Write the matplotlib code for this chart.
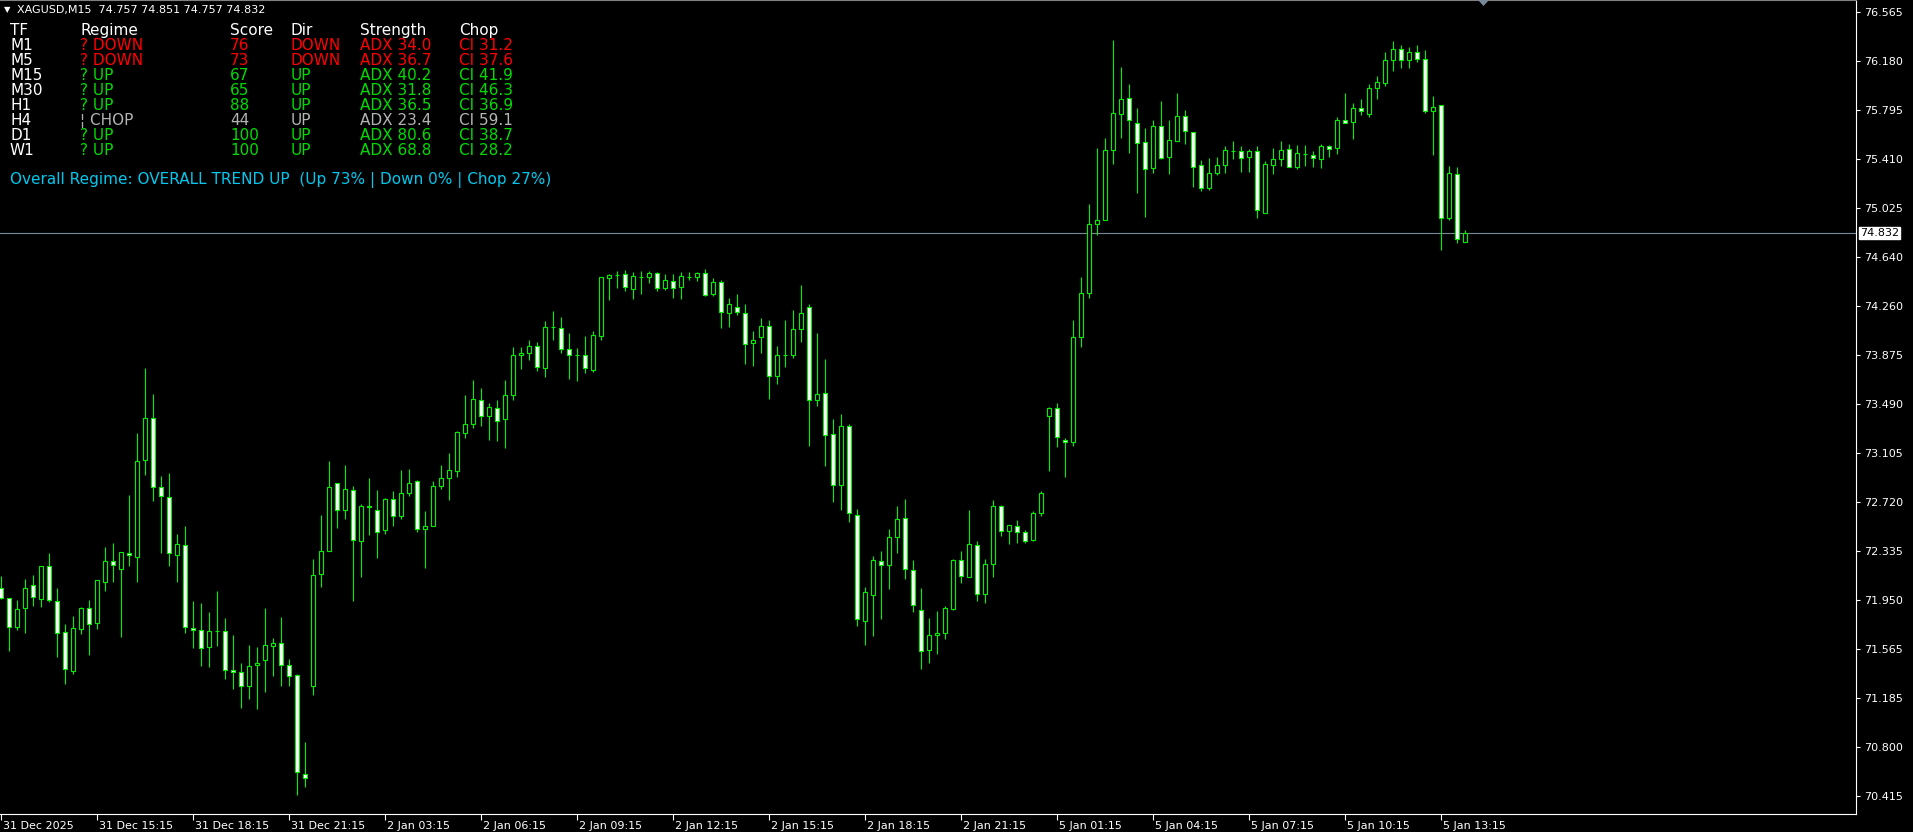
"""
Recreate the XAGUSD M15 MetaTrader chart with the regime table overlay.
"""

import numpy as np
import matplotlib

matplotlib.use("Agg")
import matplotlib.pyplot as plt
from matplotlib.patches import Polygon
from matplotlib.transforms import ScaledTranslation

# ---- candle data (bar index 0 = 31 Dec 12:15, M15 bars) ----
opens = [
    72.043, 71.966, 71.737, 71.886, 72.066, 71.958, 72.214, 71.941, 71.697, 71.396,
    71.721, 71.886, 71.768, 72.090, 72.261, 72.198, 72.323, 72.292, 73.046, 73.383,
    72.834, 72.763, 72.308, 72.386, 71.735, 71.719, 71.586, 71.711, 71.711, 71.405,
    71.389, 71.279, 71.444, 71.483, 71.593, 71.617, 71.444, 71.366, 70.589, 71.279,
    72.159, 72.336, 72.873, 72.661, 72.818, 72.418, 72.692, 72.661, 72.504, 72.747,
    72.614, 72.787, 72.881, 72.512, 72.528, 72.849, 72.912, 72.967, 73.265, 73.336,
    73.524, 73.391, 73.454, 73.375, 73.556, 73.870, 73.886, 73.948, 73.768, 74.090,
    74.082, 73.917, 73.875, 73.870, 73.757, 74.019, 74.474, 74.498, 74.506, 74.388,
    74.485, 74.482, 74.514, 74.401, 74.451, 74.404, 74.485, 74.482, 74.514, 74.353,
    74.443, 74.200, 74.251, 74.204, 73.964, 74.011, 74.098, 73.705, 73.875, 73.875,
    74.074, 74.251, 73.524, 73.572, 73.250, 72.857, 73.313, 72.622, 71.790, 71.994,
    72.261, 72.229, 72.449, 72.598, 72.190, 71.876, 71.562, 71.680, 71.695, 71.884,
    72.268, 72.132, 72.386, 72.002, 72.237, 72.692, 72.496, 72.535, 72.488, 72.425,
    72.637, 73.391, 73.454, 73.210, 73.187, 74.011, 74.357, 74.898, 74.930, 75.479,
    75.762, 75.887, 75.691, 75.542, 75.338, 75.668, 75.424, 75.550, 75.746, 75.620,
    75.361, 75.186, 75.303, 75.361, 75.471, 75.471, 75.424, 75.471, 74.985, 75.361,
    75.408, 75.487, 75.346, 75.452, 75.440, 75.408, 75.511, 75.495, 75.715, 75.699,
    75.809, 75.762, 75.966, 76.005, 76.186, 76.272, 76.186, 76.248, 76.193, 75.785,
    75.832, 74.945, 75.291, 74.757,
]
highs = [
    72.139, 71.966, 71.951, 72.116, 72.147, 72.214, 72.317, 72.045, 71.760, 71.825,
    71.896, 71.951, 72.105, 72.367, 72.398, 72.331, 72.773, 73.258, 73.770, 73.566,
    72.922, 72.946, 72.467, 72.530, 71.941, 71.925, 71.855, 72.020, 71.808, 71.674,
    71.460, 71.596, 71.580, 71.886, 71.656, 71.816, 71.491, 71.374, 70.840, 72.276,
    72.622, 73.040, 72.873, 73.009, 72.849, 72.708, 72.912, 72.818, 72.755, 72.810,
    72.969, 72.977, 72.896, 72.653, 72.881, 73.009, 73.103, 73.281, 73.558, 73.681,
    73.611, 73.493, 73.524, 73.681, 73.933, 73.933, 73.995, 73.972, 74.137, 74.215,
    74.168, 74.050, 73.925, 74.019, 74.058, 74.482, 74.506, 74.529, 74.537, 74.521,
    74.529, 74.529, 74.521, 74.506, 74.506, 74.521, 74.521, 74.521, 74.545, 74.474,
    74.459, 74.317, 74.349, 74.270, 74.058, 74.160, 74.152, 73.948, 74.152, 74.223,
    74.419, 74.275, 74.050, 73.846, 73.375, 73.407, 73.336, 72.669, 72.057, 72.297,
    72.339, 72.512, 72.685, 72.747, 72.268, 72.049, 71.813, 71.868, 71.907, 72.276,
    72.334, 72.655, 72.412, 72.276, 72.732, 72.695, 72.543, 72.577, 72.504, 72.653,
    72.810, 73.462, 73.493, 73.226, 74.145, 74.482, 75.055, 75.495, 75.573, 76.345,
    76.131, 75.997, 75.809, 75.652, 75.715, 75.864, 75.715, 75.927, 75.793, 75.620,
    75.401, 75.416, 75.424, 75.511, 75.550, 75.511, 75.487, 75.511, 75.393, 75.495,
    75.550, 75.526, 75.518, 75.518, 75.471, 75.526, 75.518, 75.738, 75.927, 75.848,
    75.879, 75.997, 76.060, 76.248, 76.335, 76.303, 76.288, 76.303, 76.264, 75.903,
    75.832, 75.354, 75.346, 74.851,
]
lows = [
    71.958, 71.553, 71.715, 71.694, 71.904, 71.898, 71.938, 71.501, 71.294, 71.372,
    71.682, 71.522, 71.726, 72.024, 72.094, 71.661, 72.218, 72.093, 72.933, 72.729,
    72.316, 72.218, 72.093, 71.692, 71.578, 71.433, 71.425, 71.593, 71.331, 71.253,
    71.104, 71.174, 71.096, 71.229, 71.355, 71.279, 71.279, 70.421, 70.483, 71.206,
    72.053, 72.336, 72.517, 72.587, 71.944, 72.132, 72.462, 72.281, 72.469, 72.532,
    72.587, 72.771, 72.485, 72.203, 72.528, 72.823, 72.736, 72.920, 73.226, 73.297,
    73.313, 73.210, 73.200, 73.145, 73.524, 73.765, 73.835, 73.749, 73.702, 73.995,
    73.890, 73.686, 73.671, 73.733, 73.741, 73.988, 74.306, 74.401, 74.377, 74.314,
    74.353, 74.440, 74.377, 74.385, 74.322, 74.314, 74.459, 74.456, 74.338, 74.338,
    74.087, 74.094, 74.189, 73.804, 73.788, 73.890, 73.529, 73.647, 73.780, 73.851,
    73.977, 73.160, 73.477, 73.003, 72.721, 72.658, 72.567, 71.750, 71.601, 71.672,
    71.805, 72.041, 72.323, 72.119, 71.860, 71.413, 71.460, 71.531, 71.648, 71.876,
    72.085, 72.132, 71.944, 71.928, 72.132, 72.454, 72.391, 72.399, 72.402, 72.415,
    72.614, 72.964, 73.148, 72.917, 73.163, 73.937, 74.322, 74.812, 74.930, 75.374,
    75.573, 75.456, 75.146, 74.958, 75.299, 75.408, 75.291, 75.550, 75.526, 75.193,
    75.162, 75.170, 75.288, 75.303, 75.413, 75.311, 75.311, 74.950, 74.985, 75.295,
    75.358, 75.346, 75.335, 75.358, 75.350, 75.343, 75.429, 75.452, 75.691, 75.565,
    75.754, 75.738, 75.879, 75.982, 76.099, 76.123, 76.123, 76.170, 75.770, 75.445,
    74.699, 74.930, 74.749, 74.757,
]
closes = [
    71.966, 71.737, 71.878, 72.043, 71.974, 72.214, 71.949, 71.690, 71.407, 71.729,
    71.886, 71.760, 72.105, 72.261, 72.222, 72.331, 72.308, 73.038, 73.383, 72.836,
    72.771, 72.316, 72.394, 71.743, 71.719, 71.578, 71.711, 71.711, 71.405, 71.389,
    71.279, 71.436, 71.460, 71.601, 71.617, 71.444, 71.358, 70.604, 70.557, 72.151,
    72.339, 72.834, 72.661, 72.826, 72.425, 72.692, 72.677, 72.488, 72.747, 72.614,
    72.787, 72.873, 72.512, 72.535, 72.849, 72.912, 72.975, 73.273, 73.336, 73.532,
    73.391, 73.462, 73.352, 73.556, 73.870, 73.886, 73.948, 73.776, 74.090, 74.090,
    73.917, 73.870, 73.875, 73.768, 74.027, 74.482, 74.498, 74.498, 74.404, 74.490,
    74.485, 74.514, 74.396, 74.459, 74.396, 74.490, 74.485, 74.514, 74.346, 74.443,
    74.207, 74.275, 74.207, 73.956, 73.995, 74.098, 73.705, 73.870, 73.875, 74.074,
    74.200, 73.517, 73.564, 73.242, 72.857, 73.313, 72.630, 71.805, 72.017, 72.268,
    72.222, 72.449, 72.590, 72.198, 71.915, 71.554, 71.680, 71.695, 71.892, 72.268,
    72.137, 72.394, 72.002, 72.237, 72.692, 72.496, 72.543, 72.488, 72.418, 72.637,
    72.787, 73.454, 73.234, 73.187, 74.011, 74.357, 74.898, 74.930, 75.479, 75.770,
    75.879, 75.715, 75.534, 75.330, 75.668, 75.416, 75.558, 75.746, 75.628, 75.352,
    75.186, 75.299, 75.361, 75.479, 75.471, 75.416, 75.471, 75.008, 75.369, 75.408,
    75.479, 75.346, 75.456, 75.452, 75.416, 75.511, 75.487, 75.715, 75.691, 75.809,
    75.785, 75.966, 76.013, 76.186, 76.272, 76.186, 76.248, 76.193, 75.785, 75.817,
    74.945, 75.299, 74.780, 74.832,
]

# time axis labels, one every 12 bars (3 hours)
time_labels = [
    "31 Dec 2025", "31 Dec 15:15", "31 Dec 18:15", "31 Dec 21:15",
    "2 Jan 03:15", "2 Jan 06:15", "2 Jan 09:15", "2 Jan 12:15",
    "2 Jan 15:15", "2 Jan 18:15", "2 Jan 21:15", "5 Jan 01:15",
    "5 Jan 04:15", "5 Jan 07:15", "5 Jan 10:15", "5 Jan 13:15",
]
price_ticks = [
    76.565, 76.180, 75.795, 75.410, 75.025, 74.640, 74.260, 73.875, 73.490,
    73.105, 72.720, 72.335, 71.950, 71.565, 71.185, 70.800, 70.415,
]

# regime table
tfs = ["M1", "M5", "M15", "M30", "H1", "H4", "D1", "W1"]
regimes = ["? DOWN", "? DOWN", "? UP", "? UP", "? UP", "\u00a6 CHOP", "? UP", "? UP"]
scores = [76, 73, 67, 65, 88, 44, 100, 100]
dirs = ["DOWN", "DOWN", "UP", "UP", "UP", "UP", "UP", "UP"]
adx = [34.0, 36.7, 40.2, 31.8, 36.5, 23.4, 80.6, 68.8]
chop_idx = [31.2, 37.6, 41.9, 46.3, 36.9, 59.1, 38.7, 28.2]
overall_text = "Overall Regime: OVERALL TREND UP  (Up 73% | Down 0% | Chop 27%)"

W, H = 1913, 832
CANDLE = "#00f000"
RED = "#ff0000"
GREEN = "#00dc00"
GREY = "#b4b4b4"
CYAN = "#00c8ee"
TABLE_FS = 11


def px(x, y):
    """pixel (from top-left) -> figure fraction"""
    return x / W, 1 - y / H


fig = plt.figure(figsize=(W / 100, H / 100), dpi=100, facecolor="black")
ax = fig.add_axes([0, 18 / H, 1856 / W, 814 / H], facecolor="black")

n = len(opens)
xs = np.arange(n)
o = np.array(opens)
c = np.array(closes)
ax.vlines(xs, lows, highs, color=CANDLE, lw=0.8, zorder=2)
fills = ["white" if cc < oo else "black" for oo, cc in zip(o, c)]
ax.bar(xs, np.abs(c - o), bottom=np.minimum(o, c), width=0.5, color=fills,
       edgecolor=CANDLE, linewidth=0.8, zorder=3)

last = closes[-1]
ax.axhline(last, color="#778899", lw=0.8, zorder=1)

ax.set_xlim(-0.0875, 231.9)
ax.set_ylim(70.272, 76.659)

ax.spines["left"].set_visible(False)
ax.spines["top"].set_color("#808080")
ax.spines["right"].set_color("white")
ax.spines["bottom"].set_color("white")
for side in ("top", "right", "bottom"):
    ax.spines[side].set_linewidth(0.8)

ax.yaxis.tick_right()
ax.set_yticks(price_ticks)
ax.set_yticklabels([f"{v:.3f}" for v in price_ticks])
ax.tick_params(axis="y", direction="out", length=3, width=0.8, colors="white",
               labelsize=8, pad=3)

ax.set_xticks(np.arange(len(time_labels)) * 12)
ax.set_xticklabels(time_labels)
ax.tick_params(axis="x", direction="out", length=4, width=0.8, colors="white",
               labelsize=8, pad=1)
for lab in ax.get_xticklabels():
    lab.set_horizontalalignment("left")
    lab.set_transform(lab.get_transform() + ScaledTranslation(1.5 / 72, 0, fig.dpi_scale_trans))

# current price box on the axis
ax.text(1 + 4 / 1856, last, f"{last:.3f}", transform=ax.get_yaxis_transform(),
        ha="left", va="center", fontsize=8, color="black", zorder=5,
        bbox=dict(boxstyle="square,pad=0.12", facecolor="white", edgecolor="white"),
        clip_on=False)

# shift marker at top
tri = Polygon([px(1478, 0), px(1489, 0), px(1483.5, 6)], closed=True,
              facecolor="#778899", edgecolor="none", transform=fig.transFigure)
fig.add_artist(tri)

# chart header
fig.text(*px(4, 10), "\u25bc", color="white", fontsize=6, va="center", ha="left")
fig.text(*px(17, 10),
         f"XAGUSD,M15  {opens[-1]:.3f} {highs[-1]:.3f} {lows[-1]:.3f} {closes[-1]:.3f}",
         color="white", fontsize=8, va="center", ha="left")

# regime table
col_x = [10, 80, 230, 291, 360, 459]
headers = ["TF", "Regime", "Score", "Dir", "Strength", "Chop"]
for cx, head in zip(col_x, headers):
    fig.text(*px(cx, 30.5), head, color="white", fontsize=TABLE_FS, va="center", ha="left")

for i, tf in enumerate(tfs):
    y = 45.5 + 15 * i
    if "DOWN" in regimes[i]:
        col = RED
    elif "CHOP" in regimes[i]:
        col = GREY
    else:
        col = GREEN
    cells = [regimes[i], f"{scores[i]}", dirs[i], f"ADX {adx[i]:.1f}", f"CI {chop_idx[i]:.1f}"]
    fig.text(*px(col_x[0], y), tf, color="white", fontsize=TABLE_FS, va="center", ha="left")
    for cx, txt in zip(col_x[1:], cells):
        fig.text(*px(cx, y), txt, color=col, fontsize=TABLE_FS, va="center", ha="left")

fig.text(*px(10, 180), overall_text, color=CYAN, fontsize=TABLE_FS, va="center", ha="left")

fig.savefig("out.png", dpi=100, facecolor="black")
